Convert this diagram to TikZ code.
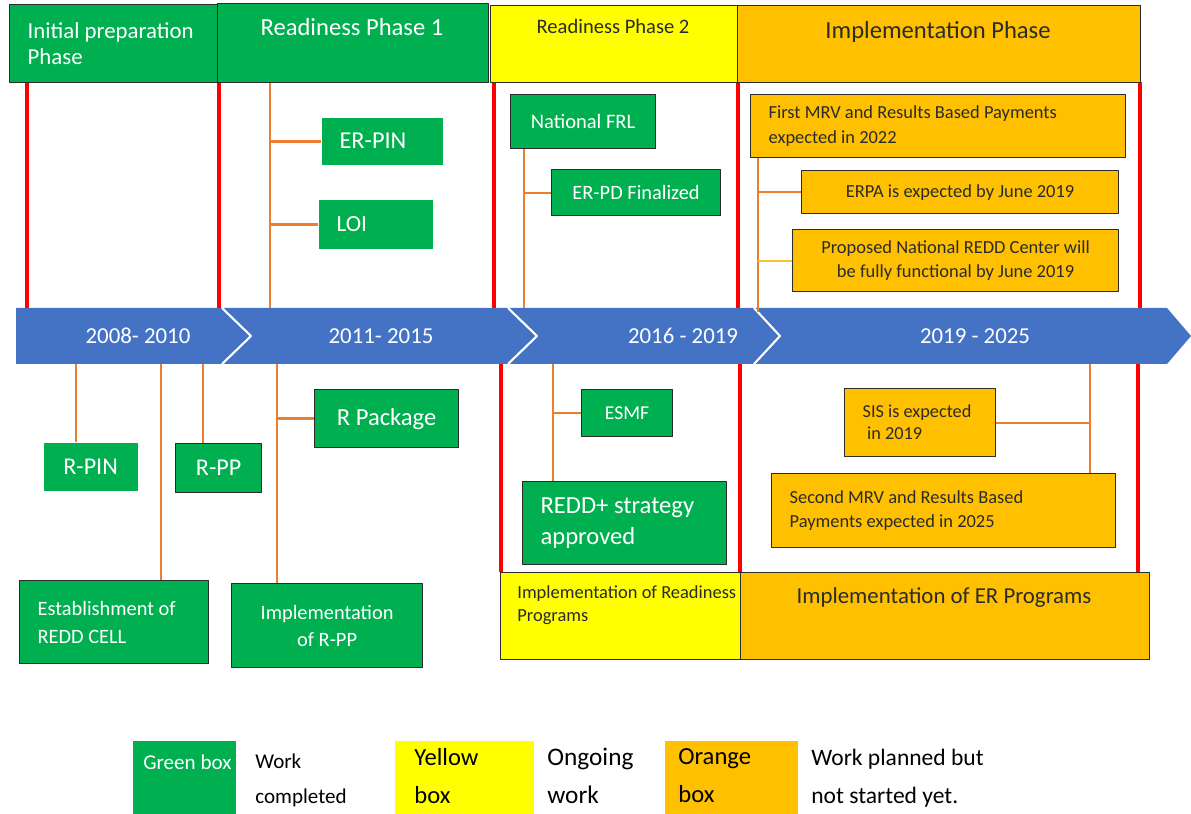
\documentclass[tikz,border=0pt]{standalone}
\usepackage{fontspec}
\setmainfont{Carlito}
\definecolor{grn}{HTML}{00B050}
\definecolor{ylw}{HTML}{FFFF00}
\definecolor{org}{HTML}{FFC000}
\definecolor{blu}{HTML}{4472C4}
\definecolor{lnorg}{HTML}{ED7D31}
\definecolor{gold}{HTML}{F4C430}
\definecolor{edge}{HTML}{2B2B2B}
\newcommand{\fs}[2]{\fontsize{#1}{#2}\selectfont}
\begin{document}
\begin{tikzpicture}[x=0.02cm,y=-0.02cm,line join=round,
    box/.style={rectangle,anchor=north west,inner sep=0pt,draw=edge,line width=0.7pt},
    gbox/.style={box,fill=grn,text=white},
    ybox/.style={box,fill=ylw,text=black},
    obox/.style={box,fill=org,text=edge},
    sz/.style 2 args={minimum width=#1cm,minimum height=#2cm},
    lft/.style={align=left,text width=#1cm,inner xsep=0.36cm,
      execute at begin node={\spaceskip=0pt\xspaceskip=0pt}},
    htext/.style={anchor=base,inner sep=0pt,font=\fs{14}{16}},
    legtext/.style={anchor=north west,inner sep=0pt,align=left,text=black},
    yr/.style={text=white,inner sep=0pt,font=\fs{13}{15}},
    divider/.style={red,line width=2pt},
    conn/.style={lnorg,line width=1.7pt},
    thinconn/.style={lnorg,line width=1.1pt}]
  \useasboundingbox (0,0) rectangle (1191,814);

  % phase dividers
  \foreach \x in {27,219,494,738,1140}
    \draw[divider] (\x,82) -- (\x,308);
  \foreach \x in {501,740,1138}
    \draw[divider] (\x,364) -- (\x,572);

  % time line
  \fill[blu] (16,308) -- (1167,308) -- (1191,336) -- (1167,364) -- (16,364) -- cycle;
  \foreach \a/\b in {222/251,508/537,754/780}
    \draw[white,line width=1.2pt] (\a,308) -- (\b,336) -- (\a,364);
  \node[yr] (y1) at (138,336) {2008- 2010};
  \node[yr] (y2) at (381,336) {2011- 2015};
  \node[yr] (y3) at (683,336) {2016 - 2019};
  \node[yr] (y4) at (975,336) {2019 - 2025};

  % phase headers
  \node[gbox,sz={4.16}{1.56},lft=3.44,font=\fs{13}{14.7}] (ip) at (9,4) {Initial preparation\\Phase};
  \node[gbox,sz={5.42}{1.58}] (rp1) at (217,3) {};
  \node[ybox,sz={4.94}{1.54}] (rp2) at (490,5) {};
  \node[obox,sz={8.06}{1.54}] (imp) at (737,5) {};
  \node[htext,text=white] (rp1t) at (352,36) {Readiness Phase 1};
  \node[htext,font=\fs{11.7}{14},text=edge] (rp2t) at (613,33.5) {Readiness Phase 2};
  \node[htext,text=edge] (impt) at (938,39) {Implementation Phase};

  % work completed
  \node[gbox,draw=none,sz={2.42}{0.94},lft=1.70,font=\fs{13.8}{16}] (erpin) at (321,117) {ER-PIN};
  \node[gbox,draw=none,sz={2.28}{0.98},lft=1.56,font=\fs{13.2}{16}] (loi) at (318,199) {LOI};
  \node[gbox,sz={2.9}{1.08},font=\fs{11.7}{14}] (frl) at (510,94) {National FRL};
  \node[gbox,sz={3.38}{0.92},font=\fs{11.6}{14}] (erpd) at (551,169) {ER-PD Finalized};
  \node[gbox,draw=none,sz={1.88}{0.96},font=\fs{13.7}{16}] (rpin) at (43,442) {R-PIN};
  \node[gbox,sz={1.72}{0.98},font=\fs{13.7}{16}] (rpp) at (175,443) {R-PP};
  \node[gbox,sz={2.88}{1.16},font=\fs{14}{16}] (rpkg) at (314,389) {R Package};
  \node[gbox,sz={3.78}{1.66},lft=3.06,font=\fs{11.6}{16}] (redd) at (19,580) {Establishment of\\REDD CELL};
  \node[gbox,sz={3.82}{1.68},align=center,font=\fs{11.6}{15.3}] (irpp) at (231,583) {Implementation\\of R-PP};
  \node[gbox,sz={1.82}{0.94},font=\fs{11.2}{14}] (esmf) at (581,389) {ESMF};
  \node[gbox,sz={4.08}{1.66},lft=3.36,font=\fs{14}{17.6}] (strat) at (522,481) {REDD+ strategy\\approved};

  % work planned
  \node[obox,sz={7.5}{1.26},lft=6.78,font=\fs{10.5}{14}] (mrv1) at (750,94) {First MRV and Results Based Payments\\expected in 2022};
  \node[obox,sz={6.34}{0.86},font=\fs{10.5}{14}] (erpa) at (801,170) {ERPA is expected by June 2019};
  \node[obox,sz={6.52}{1.24},align=center,font=\fs{10.5}{14}] (nrc) at (792,229) {Proposed National REDD Center will\\be fully functional by June 2019};
  \node[obox,sz={3.02}{1.36},lft=2.30,font=\fs{10.4}{12.5}] (sis) at (844,388) {SIS is expected\\\hspace{0.25em}in 2019};
  \node[obox,sz={6.88}{1.48},lft=6.16,font=\fs{10.5}{14}] (mrv2) at (771,473) {Second MRV and Results Based\\Payments expected in 2025};

  % programmes
  \node[ybox,sz={4.8}{1.74}] (irdy) at (500,572) {};
  \node[obox,sz={8.18}{1.74}] (ierp) at (740,572) {};
  \node[legtext,font=\fs{10.5}{13},text=edge] (irdyt) at (517,585) {Implementation of Readiness\\Programs};
  \node[htext,font=\fs{13}{15},text=edge] (ierpt) at (944,603) {Implementation of ER Programs};

  % connectors
  \coordinate (f-rp1) at (270,308);
  \coordinate (f-frl) at (524,308);
  \coordinate (f-mrv1) at (758,312);
  \coordinate (f-rpin) at (76,364);
  \coordinate (f-redd) at (161,364);
  \coordinate (f-rpp) at (203,364);
  \coordinate (f-irpp) at (277,364);
  \coordinate (f-strat) at (553,364);
  \coordinate (f-mrv2) at (1090,364);
  \draw[conn] (rp1.south -| f-rp1) -- (f-rp1);
  \draw[conn] (erpin.west) -- (erpin.west -| f-rp1);
  \draw[conn] (loi.west) -- (loi.west -| f-rp1);
  \draw[thinconn] (frl.south -| f-frl) -- (f-frl);
  \draw[thinconn] (erpd.west) -- (erpd.west -| f-frl);
  \draw[thinconn] (mrv1.south -| f-mrv1) -- (f-mrv1);
  \draw[thinconn] (erpa.west) -- (erpa.west -| f-mrv1);
  \draw[thinconn,gold] (nrc.west) -- (nrc.west -| f-mrv1);
  \foreach \n in {rpin,redd,rpp,irpp}
    \draw[conn] (f-\n) -- (\n.north -| f-\n);
  \draw[conn] (rpkg.west) -- (rpkg.west -| f-irpp);
  \foreach \n in {strat,mrv2}
    \draw[thinconn] (f-\n) -- (\n.north -| f-\n);
  \draw[thinconn] (esmf.west) -- (esmf.west -| f-strat);
  \draw[thinconn] (sis.east) -- (sis.east -| f-mrv2);

  % legend
  \node[box,draw=none,fill=grn,sz={2.06}{1.48}] (lgg) at (132,740) {};
  \node[htext,anchor=base west,text=white,font=\fs{12}{14}] (lggt) at (143,769) {Green box};
  \node[box,draw=none,fill=ylw,sz={2.78}{1.48}] (lgy) at (394,740) {};
  \node[legtext,font=\fs{14}{21.5}] (lgyt) at (414,748) {Yellow\\box};
  \node[box,draw=none,fill=org,sz={2.66}{1.48}] (lgo) at (664,740) {};
  \node[legtext,font=\fs{14}{21.5}] (lgot) at (678,748) {Orange\\box};
  \node[legtext,font=\fs{12}{19.8}] (lgw) at (255,754) {Work\\completed};
  \node[legtext,font=\fs{14.4}{21.5}] (lgn) at (547,748) {Ongoing\\work};
  \node[legtext,font=\fs{13.4}{21.5}] (lgp) at (811,749) {Work planned but\\not started yet.};
\end{tikzpicture}
\end{document}
